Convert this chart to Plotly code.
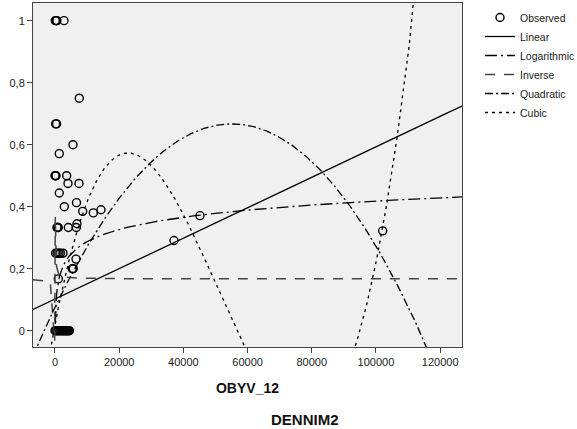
import numpy as np
import plotly.graph_objects as go

# Observed data (OBYV_12, DENNIM2)
obs_x = [100, 400, 600, 2800,
         7570,
         200, 500,
         5600,
         1340,
         0, 200, 300, 3640,
         4050, 7480,
         1340,
         2900,
         6700,
         8630,
         11930,
         14330,
         600, 900, 1000, 4150, 6650,
         6850,
         200, 700, 1200, 1700, 2500,
         6540,
         5400, 5700,
         1030,
         0, 300, 600, 900, 1200, 1500, 1800, 2100, 2400, 2700, 3000, 3300, 3600, 3900, 4200, 4500,
         37070, 45170, 102080]
obs_y = [1.0, 1.0, 1.0, 1.0,
         0.75,
         0.667, 0.667,
         0.60,
         0.571,
         0.5, 0.5, 0.5, 0.5,
         0.475, 0.475,
         0.444,
         0.40,
         0.413,
         0.385,
         0.38,
         0.39,
         0.333, 0.333, 0.333, 0.333, 0.333,
         0.345,
         0.25, 0.25, 0.25, 0.25, 0.25,
         0.231,
         0.2, 0.2,
         0.167,
         0, 0, 0, 0, 0, 0, 0, 0, 0, 0, 0, 0, 0, 0, 0, 0,
         0.291, 0.371, 0.322]

# Fitted model coefficients
lin_coef = [0.102, 4.91e-6]                       # b0 + b1*x
log_coef = [-0.237, 0.0569]                       # b0 + b1*ln(x)
inv_coef = [0.167, 20.0]                          # b0 + b1/x
quad_coef = [0.0757, 2.148e-5, -1.951e-10]        # b0 + b1*x + b2*x^2
cubic_coef = [0.0202, 5.384e-5, -1.5283e-9, 1.0099e-14]

x_range = [-6850, 126800]
y_range = [-0.0526, 1.057]

grid = np.linspace(x_range[0], x_range[1], 100)
fine = np.linspace(x_range[0], x_range[1], 400)
pos_obs = np.array(sorted(set(v for v in obs_x if v > 0)), dtype=float)
log_grid = np.unique(np.concatenate([pos_obs, grid[grid > 0]]))
inv_grid = np.unique(np.concatenate([pos_obs, grid]))

def poly(c, x):
    return sum(ci * x ** i for i, ci in enumerate(c))

fig = go.Figure()
fig.add_trace(go.Scatter(x=obs_x, y=obs_y, mode="markers", name="Observed",
                         marker=dict(symbol="circle-open", size=8, color="black",
                                     line=dict(width=1.4, color="black"))))
fig.add_trace(go.Scatter(x=fine, y=poly(lin_coef, fine), mode="lines", name="Linear",
                         line=dict(color="black", width=1.3)))
fig.add_trace(go.Scatter(x=log_grid, y=log_coef[0] + log_coef[1] * np.log(log_grid),
                         mode="lines", name="Logarithmic",
                         line=dict(color="black", width=1.3, dash="12px,4px,2px,4px")))
fig.add_trace(go.Scatter(x=inv_grid, y=inv_coef[0] + inv_coef[1] / inv_grid, mode="lines",
                         name="Inverse",
                         line=dict(color="#444444", width=1.5, dash="10px,9px")))
fig.add_trace(go.Scatter(x=fine, y=poly(quad_coef, fine), mode="lines", name="Quadratic",
                         line=dict(color="black", width=1.3, dash="8px,3px,2px,3px")))
fig.add_trace(go.Scatter(x=fine, y=poly(cubic_coef, fine), mode="lines", name="Cubic",
                         line=dict(color="black", width=1.3, dash="3px,4px")))

axis_common = dict(showline=True, linecolor="#444444", linewidth=1, mirror=True,
                   showgrid=False, zeroline=False, ticks="outside", ticklen=5,
                   tickcolor="#444444", tickfont=dict(size=11, color="#222222"),
                   automargin=False)

fig.update_layout(
    width=577, height=429,
    margin=dict(l=33, r=115, t=3, b=82, autoexpand=False),
    paper_bgcolor="white", plot_bgcolor="#F0F0F0",
    separators=",.",
    font=dict(family="Arial, Liberation Sans, sans-serif", color="#222222"),
    showlegend=True,
    legend=dict(xref="container", yref="container", x=480 / 577, y=1 - 3 / 429,
                xanchor="left", yanchor="top",
                font=dict(size=10.5, color="#222222"), bgcolor="rgba(0,0,0,0)"),
    xaxis=dict(range=x_range, tickvals=[0, 20000, 40000, 60000, 80000, 100000, 120000],
               tickformat="d",
               title=dict(text="<b>OBYV_12</b>", font=dict(size=14, color="#111111"), standoff=15),
               **axis_common),
    yaxis=dict(range=y_range, dtick=0.2, tick0=0, **axis_common),
    annotations=[dict(text="<b>DENNIM2</b>", xref="paper", yref="paper",
                      x=(305 - 33) / 429, y=-(419 - 347) / 344, xanchor="center",
                      yanchor="middle", showarrow=False,
                      font=dict(size=15, color="#111111"))],
)

fig.write_html("out.html", config={"displayModeBar": False},
               post_script="document.body.style.margin='0';document.body.style.padding='0';")
